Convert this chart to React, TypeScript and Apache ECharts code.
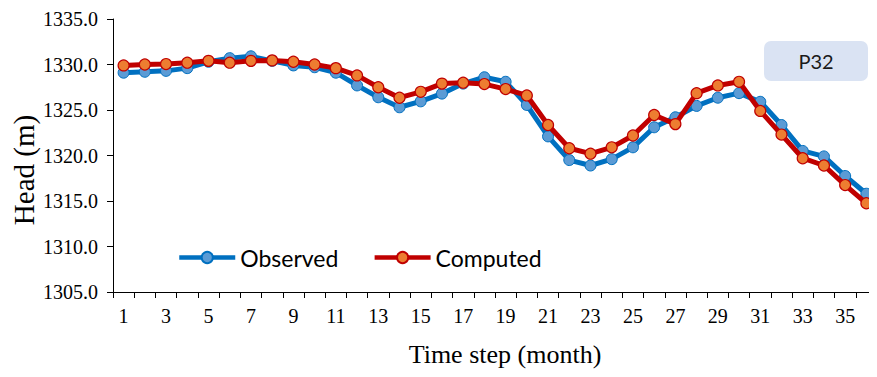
import React, { useEffect, useRef } from "react";
import * as echarts from "echarts";

const timeSteps: string[] = Array.from({ length: 36 }, (_, i) => String(i + 1));

const observed: number[] = [
  1329.1, 1329.2, 1329.3, 1329.6, 1330.3, 1330.7, 1330.9, 1330.4, 1329.9, 1329.7,
  1329.1, 1327.7, 1326.4, 1325.3, 1325.95, 1326.8, 1327.9, 1328.6, 1328.1, 1325.55,
  1322.1, 1319.5, 1318.9, 1319.6, 1320.9, 1323.1, 1324.2, 1325.45, 1326.35, 1326.85,
  1325.9, 1323.35, 1320.5, 1319.9, 1317.75, 1315.8,
];

const computed: number[] = [
  1329.9, 1330.0, 1330.05, 1330.2, 1330.4, 1330.2, 1330.4, 1330.45, 1330.3, 1330.0,
  1329.6, 1328.8, 1327.5, 1326.35, 1327.0, 1327.9, 1328.0, 1327.85, 1327.3, 1326.6,
  1323.35, 1320.8, 1320.2, 1320.9, 1322.2, 1324.45, 1323.45, 1326.85, 1327.7, 1328.1,
  1324.9, 1322.3, 1319.7, 1318.9, 1316.75, 1314.75,
];

const yMin = 1305;
const yMax = 1335;
const yStep = 5;

const serif = "'Liberation Serif', 'Times New Roman', serif";
const sans = "Lato, 'Open Sans', sans-serif";

export default function App() {
  const ref = useRef<HTMLDivElement>(null);

  useEffect(() => {
    if (!ref.current) return;
    const chart = echarts.init(ref.current, undefined, { renderer: "svg" });
    chart.setOption({
      animation: false,
      backgroundColor: "#ffffff",
      grid: { left: 113, right: -5, top: 19, bottom: 85, containLabel: false },
      legend: {
        left: 172,
        top: 241,
        itemWidth: 56,
        itemHeight: 14,
        itemGap: 34,
        lineStyle: { width: 4.5 },
        textStyle: { fontFamily: sans, fontSize: 23, color: "#000" },
        data: ["Observed", "Computed"],
      },
      xAxis: {
        type: "category",
        data: timeSteps,
        boundaryGap: true,
        axisLine: { lineStyle: { color: "#000", width: 1 } },
        axisTick: { show: true, alignWithLabel: false, interval: 0, length: 6, lineStyle: { color: "#000" } },
        axisLabel: { interval: 1, margin: 14, fontFamily: serif, fontSize: 20, color: "#000" },
        splitLine: { show: false },
      },
      yAxis: {
        type: "value",
        min: yMin,
        max: yMax,
        interval: yStep,
        axisLine: { show: true, lineStyle: { color: "#000", width: 1 } },
        axisTick: { show: true, length: 6, lineStyle: { color: "#000" } },
        axisLabel: {
          margin: 15,
          fontFamily: serif,
          fontSize: 20,
          color: "#000",
          formatter: (v: number) => v.toFixed(1),
        },
        splitLine: { show: false },
      },
      graphic: [
        {
          type: "text",
          x: 505,
          y: 354,
          style: { text: "Time step (month)", fontFamily: serif, fontSize: 26, fill: "#000", align: "center", verticalAlign: "middle" },
        },
        {
          type: "text",
          x: 24,
          y: 170,
          rotation: Math.PI / 2,
          style: { text: "Head (m)", fontFamily: serif, fontSize: 29, fill: "#000", align: "center", verticalAlign: "middle" },
        },
        {
          type: "rect",
          shape: { x: 764, y: 41, width: 104, height: 40, r: 7 },
          style: { fill: "#DAE3F3" },
        },
        {
          type: "text",
          x: 816,
          y: 61,
          style: { text: "P32", fontFamily: sans, fontSize: 20, fill: "#1a1a1a", align: "center", verticalAlign: "middle" },
        },
      ],
      series: [
        {
          name: "Observed",
          type: "line",
          data: observed,
          symbol: "circle",
          symbolSize: 11,
          lineStyle: { color: "#0070C0", width: 5 },
          itemStyle: { color: "#5B9BD5", borderColor: "#0070C0", borderWidth: 1 },
          z: 2,
        },
        {
          name: "Computed",
          type: "line",
          data: computed,
          symbol: "circle",
          symbolSize: 11,
          lineStyle: { color: "#C00000", width: 5 },
          itemStyle: { color: "#ED7D31", borderColor: "#C00000", borderWidth: 1.2 },
          z: 3,
        },
      ],
    });
    return () => chart.dispose();
  }, []);

  return <div ref={ref} style={{ width: 877, height: 377, margin: -8 }} />;
}
